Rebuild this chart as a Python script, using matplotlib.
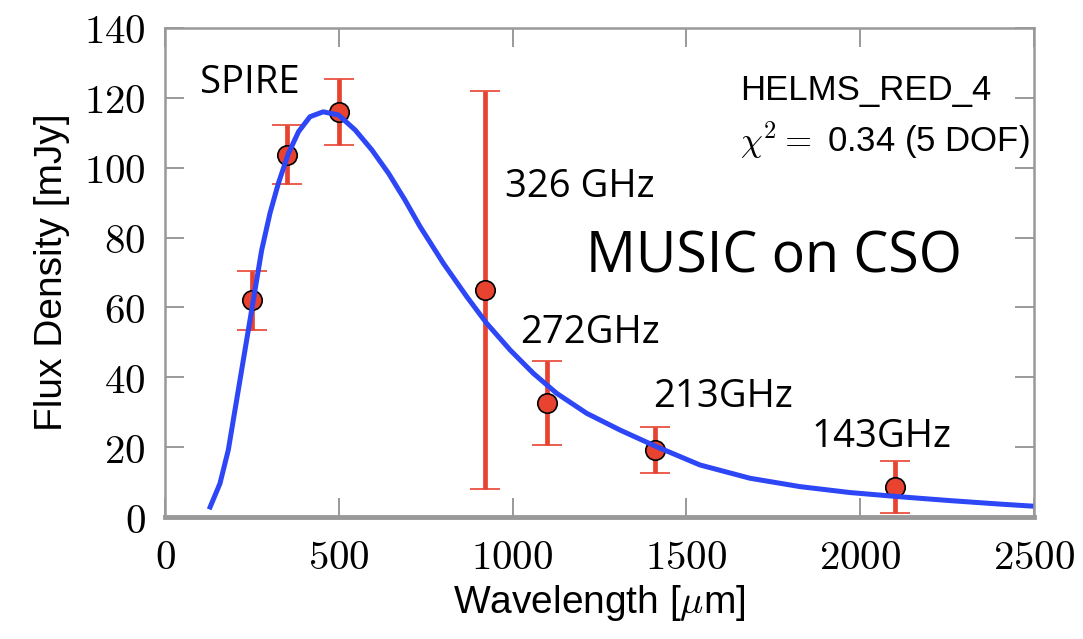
import matplotlib
matplotlib.use("Agg")
import matplotlib.pyplot as plt
from matplotlib.ticker import FuncFormatter, MultipleLocator

# measured photometry (SPIRE + MUSIC)
wavelength = [250, 350, 500, 920, 1100, 1410, 2100]
flux = [62, 103.7, 116, 65, 32.7, 19.2, 8.6]
flux_err = [8.5, 8.5, 9.5, 57, 12, 6.5, 7.5]

# SED fit curve
fit_wl = [127, 158, 182, 206, 230, 254, 278, 302, 326, 355, 384, 417, 455,
          499, 547, 595, 643, 690, 734, 801, 868, 925, 993, 1060, 1127, 1213,
          1309, 1415, 1539, 1683, 1827, 1971, 2114, 2258, 2402, 2498]
fit_flux = [2.2, 9.6, 19.2, 33.5, 47.8, 62.1, 76.4, 87.0, 95.5, 104.1, 110.3,
            114.6, 116.0, 115.1, 110.8, 105.1, 98.4, 90.8, 83.1, 72.6, 63.1,
            55.5, 47.8, 41.1, 35.4, 29.7, 24.9, 20.1, 14.9, 11.1, 8.7, 7.0,
            5.8, 4.7, 3.7, 3.1]

band_labels = ["SPIRE", "326 GHz", "272GHz", "213GHz", "143GHz"]

plt.rcParams['mathtext.fontset'] = 'cm'

red = '#e84330'
blue = '#2d46f6'
gray = '#999999'

fig = plt.figure(figsize=(10.83, 6.39), dpi=100)
ax = fig.add_axes([0.1524, 0.1909, 0.8023, 0.7653])

ax.errorbar(wavelength, flux, yerr=flux_err, fmt='o', color=red,
            ecolor=red, elinewidth=3.4, capsize=10.5, capthick=1.6,
            markersize=14, markerfacecolor=red, markeredgecolor='black',
            markeredgewidth=1.2, zorder=2)
ax.plot(fit_wl, fit_flux, color=blue, lw=3.6, zorder=3,
        solid_joinstyle='round', solid_capstyle='butt')

ax.set_xlim(0, 2500)
ax.set_ylim(0, 140)
ax.xaxis.set_major_locator(MultipleLocator(500))
ax.yaxis.set_major_locator(MultipleLocator(20))
fmt = FuncFormatter(lambda v, p: f'${v:.0f}$')
ax.xaxis.set_major_formatter(fmt)
ax.yaxis.set_major_formatter(fmt)

ax.tick_params(direction='in', length=14, width=1.4, color=gray,
               top=True, right=True, labelsize=29.5)
ax.tick_params(axis='x', pad=15)
ax.tick_params(axis='y', pad=14)

for side in ['left', 'top', 'right']:
    ax.spines[side].set_color(gray)
    ax.spines[side].set_linewidth(1.8)
ax.spines['bottom'].set_color(gray)
ax.spines['bottom'].set_linewidth(3.5)

label_font = dict(family='Liberation Sans', fontsize=28)
ax.set_xlabel(r'Wavelength [$\mu$m]', labelpad=4, **label_font)
ax.set_ylabel('Flux Density [mJy]', labelpad=10, **label_font)

# fit info
ax.text(1654, 119.3, 'HELMS_RED_4', family='Liberation Sans', fontsize=25,
        va='baseline')
ax.text(1654, 104.5, r'$\chi^2 =$ 0.34 (5 DOF)', family='Liberation Sans',
        fontsize=25, va='baseline')

# band annotations
note = dict(family='Open Sans', fontsize=27.5, va='baseline')
ax.text(101, 121.4, band_labels[0], **note)
ax.text(978, 91.6, band_labels[1], **note)
ax.text(1021, 49.8, band_labels[2], **note)
ax.text(1404, 31.5, band_labels[3], **note)
ax.text(1861, 20.0, band_labels[4], **note)
ax.text(1211, 70.1, 'MUSIC on CSO', family='Open Sans', fontsize=40,
        va='baseline')

fig.savefig('out.png', dpi=100)
